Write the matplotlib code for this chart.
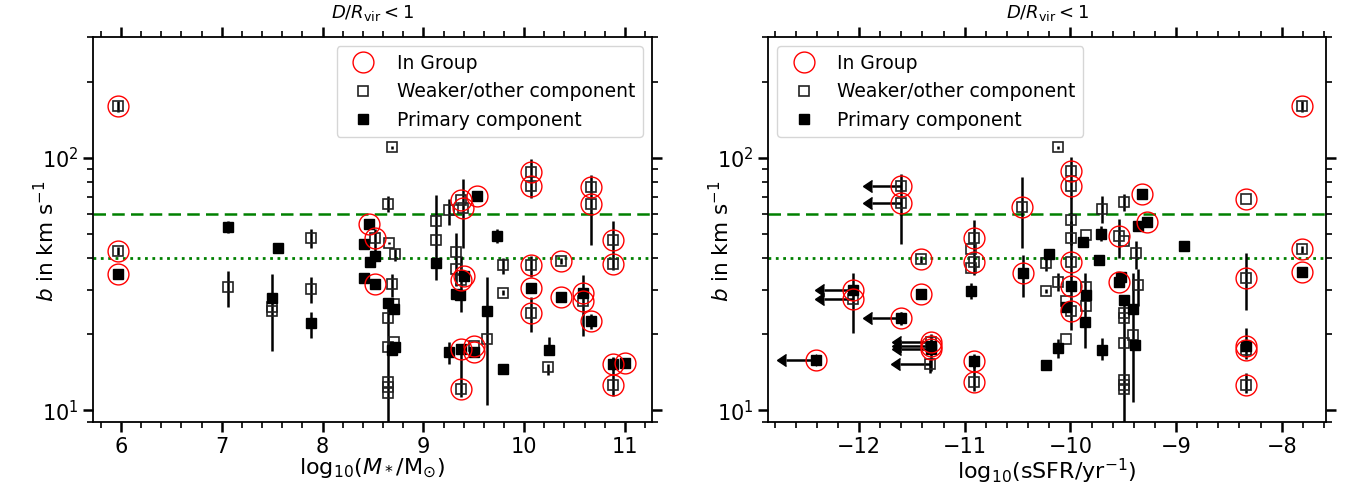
import numpy as np
import matplotlib.pyplot as plt
from matplotlib.lines import Line2D
from matplotlib.ticker import MultipleLocator, LogLocator, NullFormatter

# ---- stellar mass panel ----
# columns: log M*, b, lower err, upper err, primary component?, in group?
mass_x = [5.97, 5.97, 5.97, 7.06, 7.06, 7.56, 7.50, 7.50, 7.50, 7.89,
          7.89, 7.89, 8.46, 8.41, 8.52, 8.52, 8.47, 8.41, 8.52, 8.65,
          8.66, 8.72, 8.685, 8.65, 8.71, 8.71, 8.65, 8.65, 8.71, 8.685,
          8.72, 8.65, 8.65, 8.65, 8.685, 9.13, 9.13, 9.13, 9.25, 9.37,
          9.39, 9.53, 9.32, 9.32, 9.40, 9.37, 9.32, 9.36, 9.25, 9.37,
          9.50, 9.50, 9.37, 9.63, 9.63, 9.73, 9.79, 9.79, 9.79, 10.07,
          10.07, 10.07, 10.07, 10.07, 10.37, 10.37, 10.58, 10.58, 10.66, 10.66,
          10.66, 10.88, 10.88, 10.88, 11.00, 10.88, 10.24, 10.25]
mass_b = [160, 42.8, 34.7, 53.0, 30.7, 44.0, 27.9, 25.7, 24.8, 48.3,
          30.1, 22.1, 54.6, 45.4, 48.0, 40.7, 38.8, 33.3, 31.5, 65.3,
          45.9, 41.5, 31.5, 26.5, 25.3, 26.3, 23.1, 17.8, 18.7, 17.3,
          17.8, 12.95, 12.4, 11.7, 110, 55.9, 47.3, 38.4, 61.8, 67.7,
          63.1, 70.6, 42.5, 36.1, 34.0, 32.8, 29.0, 28.6, 17.0, 17.5,
          17.0, 17.95, 12.1, 24.8, 19.25, 49.0, 37.6, 29.2, 14.6, 87.7,
          76.9, 37.6, 30.6, 24.2, 39.1, 28.2, 29.2, 27.2, 22.5, 76.5,
          65.5, 47.3, 37.9, 15.3, 15.4, 12.65, 14.8, 17.4]
mass_lo = [8, 1.5, 0, 2.7, 5.0, 0, 10.7, 0, 0, 4.2,
           3.5, 2.8, 1, 0, 8, 0, 0, 0, 1, 4.6,
           0.4, 2.4, 3.3, 0, 0, 0, 0, 0, 0, 0,
           0, 0, 5, 0, 1.5, 0, 14.5, 0, 7.5, 0,
           19, 2.5, 11.5, 0, 0, 8.2, 0, 0, 1.7, 0,
           0, 0, 0.8, 14.3, 0, 3.1, 3.0, 0.7, 0, 18.5,
           0, 3.8, 0, 3.8, 1, 1.2, 9.5, 0, 1.5, 0,
           20.2, 11.3, 0, 0.8, 0, 1.2, 1.0, 0.9]
mass_hi = [8, 1.5, 0, 3.3, 4.9, 0, 6.7, 0, 0, 3.9,
           3.5, 2.5, 1, 0, 4, 0, 0, 0, 1, 5.3,
           0.4, 1.9, 3.1, 0, 0, 0, 0, 0, 0, 0,
           0, 0, 15, 0, 1.5, 0, 24, 0, 6.5, 0,
           19, 2.5, 8, 0, 0, 7.9, 0, 0, 1.7, 0,
           0, 0, 5.7, 8.8, 0, 3.2, 2.5, 0.7, 0, 10.9,
           0, 3.1, 0, 4.0, 1, 1.2, 5.1, 0, 1.5, 0,
           19.5, 8.6, 0, 0.8, 0, 3.6, 0.5, 2.2]
mass_primary = [0, 0, 1, 1, 0, 1, 1, 0, 0, 0,
                0, 1, 1, 1, 0, 1, 1, 1, 1, 0,
                0, 0, 0, 1, 1, 0, 0, 0, 0, 1,
                1, 0, 0, 0, 0, 0, 0, 1, 0, 0,
                0, 1, 0, 0, 1, 0, 1, 1, 1, 1,
                1, 0, 0, 1, 0, 1, 0, 0, 1, 0,
                0, 0, 1, 0, 0, 1, 1, 0, 1, 0,
                0, 0, 0, 1, 1, 0, 0, 1]
mass_group = [1, 1, 1, 0, 0, 0, 0, 0, 0, 0,
              0, 0, 1, 0, 1, 0, 0, 0, 1, 0,
              0, 0, 0, 0, 0, 0, 0, 0, 0, 0,
              0, 0, 0, 0, 0, 0, 0, 0, 0, 1,
              1, 1, 0, 0, 1, 1, 0, 0, 0, 1,
              1, 1, 1, 0, 0, 0, 0, 0, 0, 1,
              1, 1, 1, 1, 1, 1, 1, 1, 1, 1,
              1, 1, 1, 1, 1, 1, 0, 0]

# ---- sSFR panel ----
# columns: log sSFR, b, lower err, upper err, primary?, in group?, sSFR upper limit?
ssfr_x = [-11.60, -11.60, -10.46, -10.12, -9.99, -9.99, -9.99, -9.99, -9.99, -9.99,
          -9.99, -9.70, -9.495, -9.32, -8.34, -7.81, -10.91, -10.94, -10.91, -10.94,
          -10.94, -10.91, -10.91, -11.41, -11.41, -10.45, -12.055, -12.055, -11.60, -12.41,
          -11.32, -11.32, -11.32, -11.33, -10.04, -10.04, -9.855, -9.88, -9.71, -9.73,
          -10.20, -10.23, -10.23, -10.12, -9.855, -9.855, -9.855, -9.865, -10.04, -10.12,
          -10.23, -9.70, -9.54, -9.49, -9.38, -9.36, -9.275, -9.54, -9.52, -9.36,
          -9.49, -9.41, -9.49, -9.49, -9.49, -9.41, -9.39, -9.49, -9.49, -9.49,
          -8.925, -8.34, -8.34, -8.34, -8.34, -7.81, -7.81]
ssfr_b = [76.9, 65.9, 63.5, 110, 88.8, 77.0, 56.8, 48.0, 38.5, 31.1,
          24.7, 62.5, 66.5, 71.8, 68.5, 160, 48.0, 43.4, 38.5, 36.7,
          29.7, 15.7, 12.95, 39.6, 28.8, 34.9, 29.9, 27.6, 23.1, 15.8,
          18.6, 18.0, 17.5, 15.2, 25.7, 27.1, 49.2, 46.2, 49.7, 39.4,
          41.6, 38.2, 29.7, 32.3, 30.7, 28.5, 25.9, 22.4, 19.25, 17.7,
          15.1, 17.4, 48.8, 47.0, 42.1, 53.7, 55.4, 32.3, 33.6, 31.3,
          27.3, 25.3, 24.2, 23.1, 18.4, 19.8, 18.2, 13.2, 12.65, 12.1,
          44.9, 33.3, 17.95, 17.3, 12.6, 43.4, 35.2]
ssfr_lo = [0, 20.3, 19.6, 1.5, 19.8, 0, 11.8, 8, 4.7, 3,
           3.9, 7.4, 5.1, 2.5, 0, 8, 13.7, 0, 0, 0,
           2.2, 1.0, 1.05, 1.4, 1.2, 6.9, 0, 7.3, 1.3, 0,
           0, 0, 3.2, 1.1, 0, 0, 0, 0, 3.1, 0,
           0.8, 2.6, 0.6, 2.7, 0, 0, 0, 4.8, 0, 1.6,
           0, 1.6, 8.7, 0, 5.9, 0, 0, 0, 0, 5.3,
           0, 14.5, 0, 0, 0, 0, 0, 0, 4.0, 0,
           0, 8.4, 2.0, 0, 0.9, 1.5, 0]
ssfr_hi = [0, 20.6, 20.2, 1.5, 12.2, 0, 13.2, 8, 2.2, 3,
           3.5, 7.7, 5.4, 2.5, 0, 8, 8.8, 0, 0, 0,
           2.2, 1.0, 3.35, 1.4, 1.2, 6.3, 0, 7.3, 1.3, 0,
           0, 0, 2.5, 0.6, 0, 0, 0, 0, 3.7, 0,
           0.8, 3.0, 0.6, 2.8, 0, 0, 0, 12.5, 0, 1.55,
           0, 1.9, 8.2, 0, 4.5, 0, 0, 0, 0, 4.9,
           0, 9.8, 0, 0, 0, 0, 0, 0, 15.5, 0,
           0, 8.5, 3.25, 0, 1.4, 1.5, 0]
ssfr_primary = [0, 0, 0, 0, 0, 0, 0, 0, 0, 1,
                0, 0, 0, 1, 0, 0, 0, 0, 0, 0,
                1, 1, 0, 0, 1, 1, 1, 0, 1, 1,
                0, 1, 1, 0, 1, 0, 0, 1, 1, 1,
                1, 0, 0, 0, 0, 1, 0, 1, 0, 1,
                1, 1, 0, 0, 0, 1, 1, 1, 1, 0,
                1, 1, 0, 0, 0, 0, 1, 0, 0, 0,
                1, 0, 1, 0, 0, 0, 1]
ssfr_group = [1, 1, 1, 0, 1, 1, 0, 0, 1, 1,
              1, 0, 0, 1, 1, 1, 1, 0, 1, 0,
              0, 1, 1, 1, 1, 1, 1, 1, 1, 1,
              1, 1, 1, 0, 0, 0, 0, 0, 0, 0,
              0, 0, 0, 0, 0, 0, 0, 0, 0, 0,
              0, 0, 1, 0, 0, 0, 1, 1, 0, 0,
              0, 0, 0, 0, 0, 0, 0, 0, 0, 0,
              0, 1, 1, 1, 1, 1, 1]
ssfr_limit = [1, 1, 0, 0, 0, 0, 0, 0, 0, 0,
              0, 0, 0, 0, 0, 0, 0, 0, 0, 0,
              0, 0, 0, 0, 0, 0, 1, 1, 1, 1,
              1, 1, 1, 1, 0, 0, 0, 0, 0, 0,
              0, 0, 0, 0, 0, 0, 0, 0, 0, 0,
              0, 0, 0, 0, 0, 0, 0, 0, 0, 0,
              0, 0, 0, 0, 0, 0, 0, 0, 0, 0,
              0, 0, 0, 0, 0, 0, 0]

B_STRONG = 60   # dashed line
B_WEAK = 40     # dotted line
ARROW_LEN = 0.28


def draw_panel(ax, x, b, lo, hi, primary, group, limit=None):
    x = np.array(x); b = np.array(b)
    lo = np.array(lo); hi = np.array(hi)
    primary = np.array(primary, bool); group = np.array(group, bool)

    ax.errorbar(x, b, yerr=[lo, hi], fmt='none', ecolor='k', elinewidth=1.8,
                capsize=0, zorder=2)
    if limit is not None:
        limit = np.array(limit, bool)
        eb = ax.errorbar(x[limit], b[limit], xerr=ARROW_LEN, xuplims=True,
                         fmt='none', ecolor='k', elinewidth=1.8, capsize=4.5,
                         zorder=2)
        for cap in eb[1]:
            cap.set_markerfacecolor('k')
            cap.set_markeredgecolor('k')

    ax.plot(x[~primary], b[~primary], 's', ms=7, mfc='none', mec='#222222',
            mew=1.2, zorder=3)
    ax.plot(x[primary], b[primary], 's', ms=7, mfc='k', mec='k', zorder=3)
    ax.plot(x[group], b[group], 'o', ms=15, mfc='none', mec='red',
            mew=1.0, zorder=4)

    ax.axhline(B_STRONG, color='green', ls='--', lw=1.8, dashes=(5, 2.5), zorder=1)
    ax.axhline(B_WEAK, color='green', ls=':', lw=2, zorder=1)

    ax.set_yscale('log')
    ax.set_ylim(9, 300)
    ax.set_ylabel(r'$b$ in km s$^{-1}$', fontsize=15.5)
    ax.yaxis.set_label_coords(-0.062, 0.47)
    ax.set_title(r'$D/R_{\mathrm{vir}}<1$', fontsize=13, pad=14)
    ax.xaxis.set_minor_locator(MultipleLocator(0.2))
    ax.yaxis.set_minor_locator(LogLocator(base=10, subs=np.arange(2, 10)))
    ax.yaxis.set_minor_formatter(NullFormatter())
    ax.tick_params(which='both', direction='out', top=True, right=True,
                   labelsize=15)
    ax.tick_params(which='major', length=7, width=1.8)
    ax.tick_params(which='minor', length=4.5, width=1.2)
    for s in ax.spines.values():
        s.set_linewidth(1.3)


def add_legend(ax, loc):
    handles = [
        Line2D([], [], ls='none', marker='o', ms=15, mfc='none', mec='red', mew=1.0),
        Line2D([], [], ls='none', marker='s', ms=7, mfc='none', mec='#222222', mew=1.2),
        Line2D([], [], ls='none', marker='s', ms=7, mfc='k', mec='k'),
    ]
    labels = ['In Group', 'Weaker/other component', 'Primary component']
    ax.legend(handles, labels, loc=loc, fontsize=13.5)


fig = plt.figure(figsize=(13.47, 4.86), dpi=100)
ax1 = fig.add_axes([0.0690, 0.1317, 0.4150, 0.7922])
ax2 = fig.add_axes([0.5702, 0.1317, 0.4142, 0.7922])

draw_panel(ax1, mass_x, mass_b, mass_lo, mass_hi, mass_primary, mass_group)
ax1.set_xlim(5.722, 11.268)
ax1.xaxis.set_major_locator(MultipleLocator(1))
ax1.set_xlabel(r'$\mathrm{log}_{10}(M_*/\mathrm{M}_{\odot})$', fontsize=16,
               labelpad=0)
add_legend(ax1, 'upper right')

draw_panel(ax2, ssfr_x, ssfr_b, ssfr_lo, ssfr_hi, ssfr_primary, ssfr_group,
           ssfr_limit)
ax2.set_xlim(-12.861, -7.581)
ax2.xaxis.set_major_locator(MultipleLocator(1))
ax2.set_xlabel(r'$\mathrm{log}_{10}(\mathrm{sSFR/yr^{-1}})$', fontsize=16,
               labelpad=0)
add_legend(ax2, 'upper left')

fig.savefig('out.png', dpi=100)
